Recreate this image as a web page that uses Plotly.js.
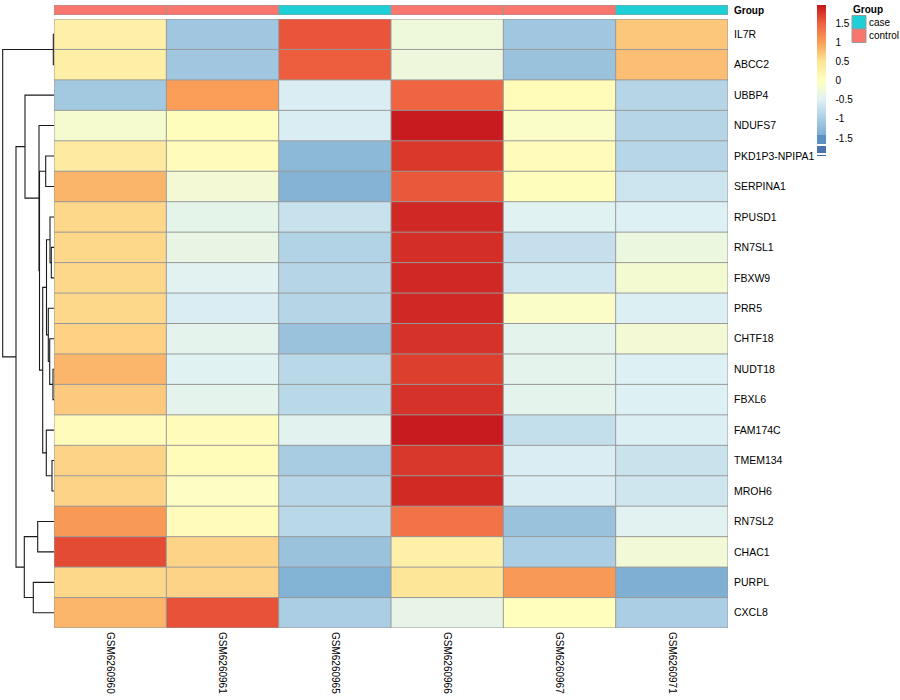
<!DOCTYPE html>
<html><head><meta charset="utf-8">
<script src="https://cdn.plot.ly/plotly-3.0.1.min.js"></script>
<style>html,body{margin:0;padding:0;background:#fff}</style>
</head><body><div id="chart" style="width:900px;height:700px"></div>
<script>
// ---- data ----
const samples = ['GSM6260960','GSM6260961','GSM6260965','GSM6260966','GSM6260967','GSM6260971'];
const groups = ['control','control','case','control','control','case'];
const groupLevels = ['case','control'];
const groupColors = ['#1ECFD6','#F8766D'];
const genes = ['IL7R','ABCC2','UBBP4','NDUFS7','PKD1P3-NPIPA1','SERPINA1','RPUSD1','RN7SL1','FBXW9','PRR5',
  'CHTF18','NUDT18','FBXL6','FAM174C','TMEM134','MROH6','RN7SL2','CHAC1','PURPL','CXCL8'];
// row z-scores, columns in sample order
const zIL7R     = [0.28,-1.08,1.57,-0.26,-1.08,0.72];
const zABCC2    = [0.30,-1.08,1.52,-0.27,-1.15,0.78];
const zUBBP4    = [-1.06,1.02,-0.55,1.46,0.06,-0.88];
const zNDUFS7   = [-0.15,0.04,-0.55,1.95,-0.08,-0.88];
const zPKD1P3   = [0.38,0.05,-1.28,1.76,0.05,-0.87];
const zSERPINA1 = [0.85,-0.20,-1.36,1.55,0.04,-0.68];
const zRPUSD1   = [0.60,-0.40,-0.72,1.86,-0.48,-0.52];
const zRN7SL1   = [0.60,-0.35,-0.92,1.82,-0.74,-0.30];
const zFBXW9    = [0.60,-0.47,-0.88,1.86,-0.62,-0.18];
const zPRR5     = [0.60,-0.56,-0.88,1.86,-0.08,-0.53];
const zCHTF18   = [0.65,-0.42,-1.15,1.80,-0.42,-0.20];
const zNUDT18   = [0.84,-0.48,-0.85,1.72,-0.42,-0.52];
const zFBXL6    = [0.70,-0.42,-0.85,1.80,-0.42,-0.52];
const zFAM174C  = [0.05,0.05,-0.45,1.95,-0.75,-0.53];
const zTMEM134  = [0.63,0.07,-1.02,1.77,-0.55,-0.70];
const zMROH6    = [0.63,-0.04,-0.87,1.85,-0.55,-0.65];
const zRN7SL2   = [1.05,0.05,-0.85,1.35,-1.15,-0.47];
const zCHAC1    = [1.64,0.63,-1.15,0.28,-0.98,-0.22];
const zPURPL    = [0.60,0.63,-1.38,0.48,1.05,-1.41];
const zCXCL8    = [0.84,1.60,-0.98,-0.38,0.02,-0.98];
const zRows = [zIL7R,zABCC2,zUBBP4,zNDUFS7,zPKD1P3,zSERPINA1,zRPUSD1,zRN7SL1,zFBXW9,zPRR5,
  zCHTF18,zNUDT18,zFBXL6,zFAM174C,zTMEM134,zMROH6,zRN7SL2,zCHAC1,zPURPL,zCXCL8];
// row dendrogram (hclust style: negative = leaf number, positive = earlier merge)
const mergeLeft   = [-1,-12,-15,-8,-7,-11,-10,5,-14,-5,8,10,-4,-17,-19,-3,14,16,1];
const mergeRight  = [-2,-13,-16,-9,4,2,6,7,3,-6,9,11,12,-18,-20,13,15,17,18];
const mergeHeight = [0.07,0.10,0.20,0.27,0.40,0.43,0.57,0.75,0.77,0.83,1.13,1.45,1.50,1.63,2.07,2.90,2.97,3.80,5.13];
const legendTicks = [-1.5,-1,-0.5,0,0.5,1,1.5];
const legendTickText = ['-1.5','-1','-0.5','0','0.5','1','1.5'];

// ---- build ----
const zmin = -1.97, zmax = 1.98;
const stops = [
  [-1.97,'#3E66A6'],[-1.935,'#3E66A6'],[-1.934,'#FFFFFF'],[-1.90,'#FFFFFF'],[-1.899,'#4B74B1'],
  [-1.70,'#4B74B1'],[-1.699,'#FFFFFF'],[-1.66,'#FFFFFF'],[-1.659,'#5E8FC3'],[-1.43,'#5E8FC3'],
  [-1.429,'#7DAED2'],[-1.0,'#A9CDE3'],[-0.5,'#DFF1F4'],[0,'#FFFFBF'],[0.5,'#FEE597'],
  [1.0,'#F9A058'],[1.5,'#EE6040'],[1.75,'#DA3A2C'],[1.98,'#C5161D']];
const colorscale = stops.map(s => [(s[0]-zmin)/(zmax-zmin), s[1]]);

const nR = genes.length, nC = samples.length;
const rowIdx = genes.map((g,i)=>i), colIdx = samples.map((s,i)=>i);

// dendrogram coordinates
const nodeY = [], nodeH = [];
function pos(ref){ return ref < 0 ? {y: -ref-1, h: 0} : {y: nodeY[ref-1], h: nodeH[ref-1]}; }
const dx = [], dy = [];
for (let i = 0; i < mergeLeft.length; i++) {
  const a = pos(mergeLeft[i]), b = pos(mergeRight[i]), h = mergeHeight[i];
  dx.push(a.h, h, h, b.h, null); dy.push(a.y, a.y, b.y, b.y, null);
  nodeY.push((a.y+b.y)/2); nodeH.push(h);
}

const font = 'Liberation Sans, Arial, sans-serif';
const traces = [
  { type:'heatmap', x: colIdx, y: rowIdx, z: zRows, zmin, zmax, colorscale, hoverinfo:'skip',
    xaxis:'x', yaxis:'y',
    colorbar:{ x: 817/900, xanchor:'left', xpad:0, y: 1-5/700, yanchor:'top', ypad:0,
      len:151, lenmode:'pixels', thickness:9, thicknessmode:'pixels', outlinewidth:0,
      tickvals: legendTicks, ticktext: legendTickText, ticks:'outside', ticklen:8, tickcolor:'rgba(0,0,0,0)',
      tickfont:{size:10, family:font, color:'#000'} } },
  { type:'heatmap', x: colIdx, y:[0], z:[groups.map(g => groupLevels.indexOf(g))], zmin:0, zmax:1,
    colorscale:[[0,groupColors[0]],[0.5,groupColors[0]],[0.5,groupColors[1]],[1,groupColors[1]]],
    showscale:false, hoverinfo:'skip', xaxis:'x', yaxis:'y2' },
  { type:'scatter', mode:'lines', x: dx, y: dy, xaxis:'x2', yaxis:'y',
    line:{color:'#1a1a1a', width:1.1}, hoverinfo:'skip', showlegend:false }
];

const shapes = [];
const grey = {color:'#999999', width:1};
for (let c = 0; c <= nC; c++) {
  shapes.push({type:'line', xref:'x', yref:'y', x0:c-0.5, x1:c-0.5, y0:-0.5, y1:nR-0.5, line:grey});
  shapes.push({type:'line', xref:'x', yref:'y2', x0:c-0.5, x1:c-0.5, y0:-0.5, y1:0.5, line:grey});
}
for (let r = 0; r <= nR; r++)
  shapes.push({type:'line', xref:'x', yref:'y', x0:-0.5, x1:nC-0.5, y0:r-0.5, y1:r-0.5, line:grey});
[-0.5,0.5].forEach(v => shapes.push({type:'line', xref:'x', yref:'y2', x0:-0.5, x1:nC-0.5, y0:v, y1:v, line:grey}));

// annotation legend (Group)
const annotations = [{xref:'paper', yref:'paper', x:851/900, y:1-10/700, xanchor:'left', yanchor:'middle',
  text:'<b>Group</b>', showarrow:false, font:{size:10}}];
groupLevels.forEach((lv,i) => {
  const top = 15.5 + 13.5*i;
  shapes.push({type:'rect', xref:'paper', yref:'paper', x0:852/900, x1:866/900, y0:1-(top+13.5)/700, y1:1-top/700,
    fillcolor: groupColors[i], line:{color:'#999999', width:1}});
  annotations.push({xref:'paper', yref:'paper', x:867/900, y:1-(top+6.75)/700, xanchor:'left', yanchor:'middle',
    text: lv, showarrow:false, font:{size:10}});
});

const layout = {
  width:900, height:700, margin:{l:0,r:0,t:0,b:0},
  paper_bgcolor:'#fff', plot_bgcolor:'#fff',
  font:{family:font, size:10, color:'#000'},
  showlegend:false,
  xaxis:{ domain:[54/900, 728/900], anchor:'y', range:[-0.5,nC-0.5], tickvals: colIdx, ticktext: samples,
    tickangle:90, ticks:'', showgrid:false, zeroline:false, showline:false, ticklabelstandoff:3,
    tickfont:{size:10} },
  yaxis:{ domain:[1-628/700, 1-19/700], anchor:'x', range:[nR-0.5,-0.5], tickvals: rowIdx, ticktext: genes,
    side:'right', ticks:'', showgrid:false, zeroline:false, showline:false, ticklabelstandoff:5,
    tickfont:{size:10.5} },
  yaxis2:{ domain:[1-15/700, 1-5/700], anchor:'x', range:[-0.5,0.5], tickvals:[0], ticktext:['<b>Group</b>'],
    side:'right', ticks:'', showgrid:false, zeroline:false, showline:false, ticklabelstandoff:5,
    tickfont:{size:10} },
  xaxis2:{ domain:[0, 54/900], anchor:'y', range:[5.4, 0], visible:false },
  shapes, annotations
};
Plotly.newPlot('chart', traces, layout, {staticPlot:true, displayModeBar:false});
</script></body></html>
